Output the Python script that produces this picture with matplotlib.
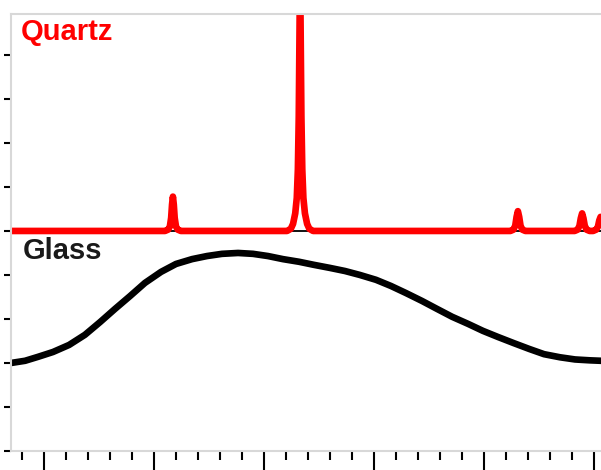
import matplotlib.pyplot as plt
from matplotlib.ticker import MultipleLocator

plt.rcParams['font.family'] = ['Liberation Sans', 'DejaVu Sans']

# diffraction traces, 2-theta (deg) vs offset intensity (a.u.)
quartz_2theta = [13.5,
                 20.50, 20.64, 20.72, 20.78, 20.82, 20.86, 20.90, 20.94, 21.00,
                 21.08, 21.22,
                 26.05, 26.22, 26.32, 26.42, 26.49, 26.54, 26.58, 26.64, 26.70,
                 26.74, 26.79, 26.86, 26.96, 27.06, 27.23,
                 36.20, 36.34, 36.42, 36.48, 36.54, 36.60, 36.66, 36.74, 36.88,
                 39.12, 39.26, 39.34, 39.40, 39.46, 39.52, 39.58, 39.66, 39.80,
                 39.96, 40.10, 40.18, 40.24, 40.30, 40.36, 40.42, 40.50, 40.64,
                 41.0]
quartz_counts = [5.0,
                 5.00, 5.03, 5.10, 5.30, 5.60, 5.78, 5.60, 5.30, 5.10,
                 5.03, 5.00,
                 5.00, 5.05, 5.16, 5.40, 5.75, 6.40, 7.60, 11.0, 7.60,
                 6.40, 5.75, 5.40, 5.16, 5.05, 5.00,
                 5.00, 5.03, 5.12, 5.32, 5.45, 5.32, 5.12, 5.03, 5.00,
                 5.00, 5.03, 5.12, 5.29, 5.40, 5.29, 5.12, 5.03, 5.00,
                 5.00, 5.03, 5.10, 5.24, 5.32, 5.24, 5.10, 5.03, 5.00,
                 5.0]
quartz_base = 5.0

glass_2theta = [13.50, 14.14, 14.73, 15.41, 16.14, 16.86, 17.55, 18.23, 18.91,
                19.59, 20.32, 21.00, 21.73, 22.41, 23.09, 23.82, 24.50, 25.18,
                25.86, 26.59, 27.27, 28.00, 28.68, 29.36, 30.09, 30.77, 31.45,
                32.18, 32.86, 33.55, 34.27, 34.95, 35.64, 36.36, 37.05, 37.73,
                38.45, 39.14, 39.82, 40.32, 41.00]
glass_counts = [2.00, 2.05, 2.14, 2.25, 2.41, 2.64, 2.93, 3.23, 3.52,
                3.82, 4.07, 4.25, 4.36, 4.43, 4.48, 4.50, 4.48, 4.43,
                4.36, 4.30, 4.23, 4.16, 4.09, 4.00, 3.89, 3.75, 3.59,
                3.41, 3.23, 3.05, 2.89, 2.73, 2.59, 2.45, 2.32, 2.20,
                2.13, 2.08, 2.06, 2.05, 2.05]

fig = plt.figure(figsize=(6.01, 4.70), dpi=100)
ax = fig.add_axes([11/601, 19/470, 605/601, 437/470])

ax.axhline(quartz_base, color="black", lw=1.3, zorder=1)
ax.plot(quartz_2theta, quartz_counts, color="#ff0000", lw=4.8,
        solid_joinstyle="round", solid_capstyle="butt", zorder=2)
ax.plot(glass_2theta, glass_counts, color="black", lw=4.8,
        solid_joinstyle="round", zorder=2)

ax.text(13.95, 9.34, "Quartz", color="#ff0000", fontsize=21,
        fontweight="bold", va="baseline", ha="left")
ax.text(14.05, 4.36, "Glass", color="#1a1a1a", fontsize=21,
        fontweight="bold", va="baseline", ha="left")

ax.set_xlim(13.5, 41.0)
ax.set_ylim(0, 9.93)
ax.xaxis.set_major_locator(MultipleLocator(5))
ax.xaxis.set_minor_locator(MultipleLocator(1))
ax.yaxis.set_major_locator(MultipleLocator(1))

ax.tick_params(axis="x", which="major", direction="out", length=14,
               width=1.5, color="black", labelbottom=False)
ax.tick_params(axis="x", which="minor", direction="out", length=6.5,
               width=1.5, color="black")
ax.tick_params(axis="y", which="major", direction="out", length=5,
               width=1.5, color="black", labelleft=False)

for s in ax.spines.values():
    s.set_color("#d8d8d8")
    s.set_linewidth(1.5)

plt.savefig("out.png", facecolor="white")
